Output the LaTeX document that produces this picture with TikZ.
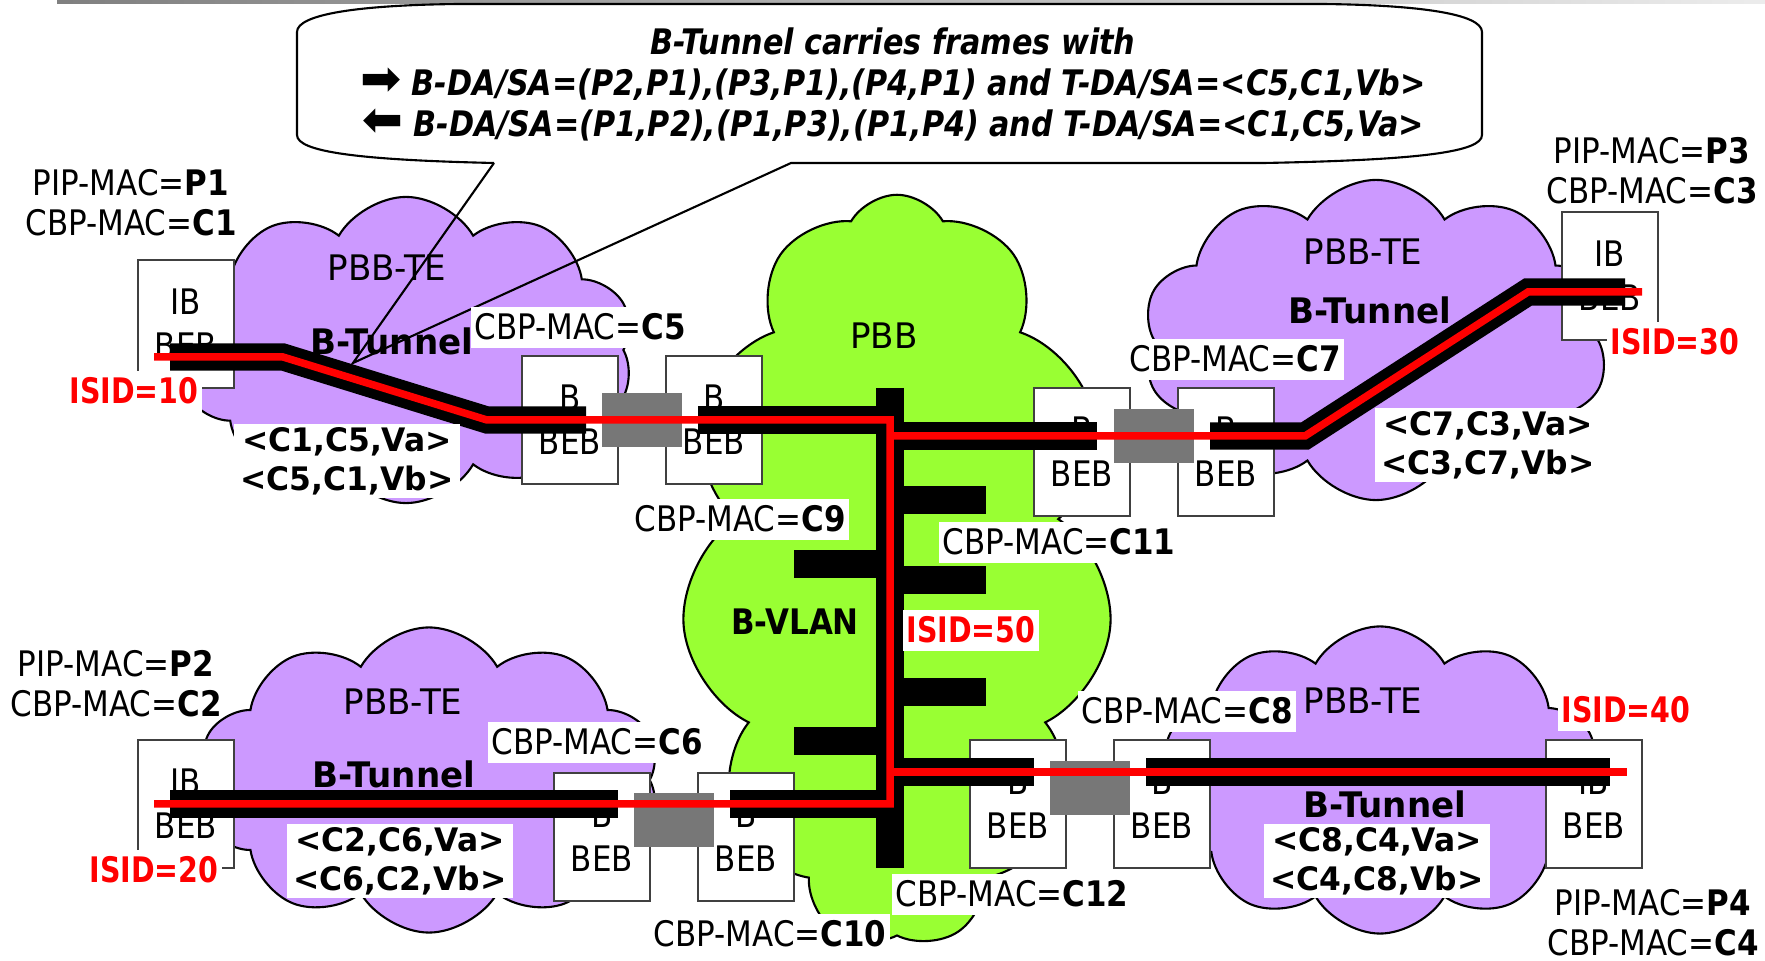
\documentclass[tikz,border=0pt]{standalone}
\usepackage{fontspec}
\setmainfont{DejaVu Sans}[FakeStretch=0.88]
\newfontfamily\bubblefont{DejaVu Sans}[FakeStretch=0.86]
\newfontfamily\widefont{DejaVu Sans}[FakeStretch=0.97]
\newfontfamily\narrowfont{DejaVu Sans}[FakeStretch=0.81]
\newfontfamily\arrowfont{DejaVu Sans}
\usetikzlibrary{shapes.symbols}
\definecolor{tepurple}{RGB}{204,153,255}
\definecolor{pbbgreen}{RGB}{153,255,51}
\definecolor{linkgray}{RGB}{119,119,119}
\definecolor{isidred}{RGB}{255,0,0}

\begin{document}
\begin{tikzpicture}[
  x=0.01cm,y=-0.01cm,
  tecloud/.style={cloud,cloud puffs=10,cloud puff arc=120,cloud ignores aspect,draw=black,line width=.6pt,fill=tepurple,inner sep=0pt},
  pbbcloud/.style={tecloud,cloud puffs=11,fill=pbbgreen},
  cloudname/.style={anchor=base,font=\widefont},
  tunname/.style={anchor=base,font=\widefont\bfseries},
  bebbox/.style={draw=black!75,line width=.6pt,fill=white,minimum width=.96cm,minimum height=1.28cm,inner sep=0pt,align=center,font=\fontsize{10}{12.5}\selectfont},
  link/.style={fill=linkgray,minimum width=.8cm,minimum height=.53cm,inner sep=0pt},
  tunnel/.style={line width=.27cm,black},
  isidline/.style={line width=.075cm,isidred},
  mac/.style={fill=white,inner xsep=1pt,inner ysep=2pt,anchor=base},
  isid/.style={fill=white,inner xsep=1pt,inner ysep=2pt,anchor=base,text=isidred,font=\narrowfont\bfseries},
  pip/.style={align=center,inner sep=0pt,font=\fontsize{10}{11.4}\selectfont},
  tag/.style={fill=white,align=center,inner xsep=2pt,inner ysep=1pt,font={\widefont\fontsize{9.2}{11.1}\selectfont\bfseries}},
  bubbletext/.style={align=center,inner sep=0pt,font={\bubblefont\fontsize{10}{11.7}\selectfont\bfseries\itshape}}
]
\path[use as bounding box] (0,0) rectangle (1765,961);
\fill[white] (0,0) rectangle (1765,961);
\shade[left color=gray,right color=gray!15] (57,0) rectangle (1765,4);

% clouds: four PBB-TE domains round the PBB core
\node[pbbcloud,minimum width=4.31cm,minimum height=7.52cm] (pbb) at (897,571) {};
\node[tecloud,minimum width=4.56cm,minimum height=3.06cm] (teP1) at (406,350) {};
\node[tecloud,minimum width=4.67cm,minimum height=3.20cm] (teP3) at (1376,340) {};
\node[tecloud,minimum width=4.62cm,minimum height=3.05cm] (teP2) at (429,780) {};
\node[tecloud,minimum width=4.40cm,minimum height=3.07cm] (teP4) at (1380,780) {};

\node[cloudname] (nameP1) at (387,281) {PBB-TE};
\node[cloudname] (nameP3) at (1363,265) {PBB-TE};
\node[cloudname] (nameP2) at (403,715) {PBB-TE};
\node[cloudname] (nameP4) at (1363,714) {PBB-TE};
\node[cloudname] (namePBB) at (884,349) {PBB};
\node[anchor=base,font=\bfseries] (bvlan) at (795,635) {B-VLAN};
\node[tunname] (tunP1) at (392,355) {B-Tunnel};
\node[tunname] (tunP3) at (1370,324) {B-Tunnel};
\node[tunname] (tunP2) at (394,788) {B-Tunnel};
\node[tunname] (tunP4) at (1385,818) {B-Tunnel};

% bridges
\node[bebbox] (ibP1) at (186,324) {IB\\BEB};
\node[bebbox] (ibP3) at (1610,276) {IB\\BEB};
\node[bebbox] (ibP2) at (186,804) {IB\\BEB};
\node[bebbox] (ibP4) at (1594,804) {IB\\BEB};
\node[bebbox] (bebC5) at (570,420) {B\\BEB};
\node[bebbox] (bebC9) at (714,420) {B\\BEB};
\node[bebbox] (bebC11) at (1082,452) {B\\BEB};
\node[bebbox] (bebC7) at (1226,452) {B\\BEB};
\node[bebbox] (bebC6) at (602,837) {B\\BEB};
\node[bebbox] (bebC10) at (746,837) {B\\BEB};
\node[bebbox] (bebC12) at (1018,804) {B\\BEB};
\node[bebbox] (bebC8) at (1162,804) {B\\BEB};

% bends and ends of the tunnels
\coordinate (a0) at (170,357);  \coordinate (a1) at (283,357);
\coordinate (a2) at (487,420);  \coordinate (a3) at (586,420);
\coordinate (a4) at (698,420);  \coordinate (r10) at (154,357);
\coordinate (b0) at (1097,436); \coordinate (b1) at (1210,436);
\coordinate (b2) at (1305,436); \coordinate (b3) at (1528,292);
\coordinate (b4) at (1625,292); \coordinate (r30) at (1642,292);
\coordinate (c0) at (170,804);  \coordinate (c1) at (618,804);
\coordinate (c2) at (730,804);  \coordinate (r20) at (154,804);
\coordinate (d0) at (1034,772); \coordinate (d1) at (1146,772);
\coordinate (d2) at (1610,772); \coordinate (r40) at (1627,772);
\coordinate (bustop) at (890,388); \coordinate (busbot) at (890,868);
\coordinate (bus1) at (890,420); \coordinate (bus2) at (890,436);
\coordinate (bus3) at (890,772); \coordinate (bus4) at (890,804);

\draw[tunnel] (bustop) -- (busbot);
\draw[tunnel] (a0) -- (a1) -- (a2) -- (a3);
\draw[tunnel] (a4) -- (bus1);
\draw[tunnel] (bus2) -- (b0);
\draw[tunnel] (b1) -- (b2) -- (b3) -- (b4);
\draw[tunnel] (c0) -- (c1);
\draw[tunnel] (c2) -- (bus4);
\draw[tunnel] (bus3) -- (d0);
\draw[tunnel] (d1) -- (d2);
\foreach \y in {500,580,692} \draw[tunnel] (890,\y) -- (986,\y);
\foreach \y in {564,741} \draw[tunnel] (794,\y) -- (890,\y);

\node[link] (linkC5) at (642,420) {};
\node[link] (linkC7) at (1154,436) {};
\node[link] (linkC6) at (674,820) {};
\node[link] (linkC8) at (1090,788) {};

\draw[isidline] (r10) -- (a1) -- (a2) -- (bus1) -- (bus4) -- (r20);
\draw[isidline] (bus2) -- (b2) -- (b3) -- (r30);
\draw[isidline] (bus3) -- (r40);

% speech bubble
\coordinate (tip) at (353,363);
\draw[line width=.6pt] (494,163) -- (tip) -- (791,163) -- (1264,163)
  .. controls (1420,160) and (1482,152) .. (1482,135) -- (1482,32)
  .. controls (1482,14) and (1420,5) .. (1322,4) -- (459,4)
  .. controls (360,5) and (297,14) .. (297,32) -- (297,135)
  .. controls (297,152) and (360,160) .. (494,163);
\node[bubbletext] (note) at (893,85) {B-Tunnel carries frames with\\
  {\arrowfont\fontsize{14}{14}\selectfont\upshape\mdseries ➡} B-DA/SA=(P2,P1),(P3,P1),(P4,P1) and T-DA/SA=<C5,C1,Vb>\\
  \reflectbox{\arrowfont\fontsize{14}{14}\selectfont\upshape\mdseries ➡} B-DA/SA=(P1,P2),(P1,P3),(P1,P4) and T-DA/SA=<C1,C5,Va>};

% labels
\node[pip] (pipP1) at (131,203) {PIP-MAC=\textbf{P1}\\CBP-MAC=\textbf{C1}};
\node[pip] (pipP3) at (1652,171) {PIP-MAC=\textbf{P3}\\CBP-MAC=\textbf{C3}};
\node[pip] (pipP2) at (116,684) {PIP-MAC=\textbf{P2}\\CBP-MAC=\textbf{C2}};
\node[pip] (pipP4) at (1653,923) {PIP-MAC=\textbf{P4}\\CBP-MAC=\textbf{C4}};

\node[isid] (isid10) at (134,404) {ISID=10};
\node[isid] (isid20) at (154,883) {ISID=20};
\node[isid] (isid30) at (1675,355) {ISID=30};
\node[isid] (isid40) at (1626,723) {ISID=40};
\node[isid] (isid50) at (971,643) {ISID=50};

\node[mac] (macC5) at (580,340) {CBP-MAC=\textbf{C5}};
\node[mac] (macC7) at (1235,372) {CBP-MAC=\textbf{C7}};
\node[mac] (macC9) at (740,532) {CBP-MAC=\textbf{C9}};
\node[mac] (macC11) at (1059,555) {CBP-MAC=\textbf{C11}};
\node[mac] (macC6) at (597,755) {CBP-MAC=\textbf{C6}};
\node[mac] (macC8) at (1187,724) {CBP-MAC=\textbf{C8}};
\node[mac] (macC10) at (770,947) {CBP-MAC=\textbf{C10}};
\node[mac] (macC12) at (1012,907) {CBP-MAC=\textbf{C12}};

\node[tag] (tagP1) at (347,461) {<C1,C5,Va>\\<C5,C1,Vb>};
\node[tag] (tagP3) at (1488,445) {<C7,C3,Va>\\<C3,C7,Vb>};
\node[tag] (tagP2) at (400,861) {<C2,C6,Va>\\<C6,C2,Vb>};
\node[tag] (tagP4) at (1377,861) {<C8,C4,Va>\\<C4,C8,Vb>};
\end{tikzpicture}
\end{document}
